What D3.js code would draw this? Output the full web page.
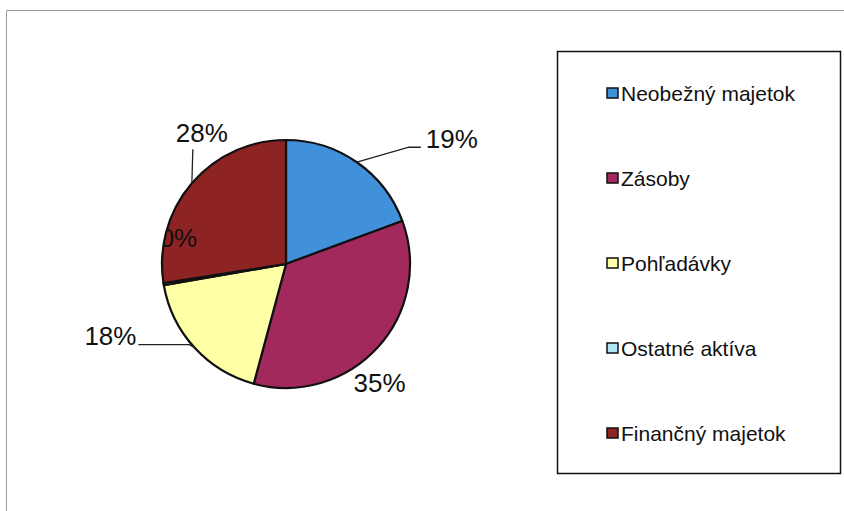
<!DOCTYPE html>
<html>
<head>
<meta charset="utf-8">
<script src="https://cdn.jsdelivr.net/npm/d3@7"></script>
<style>
  html, body { margin: 0; padding: 0; background: #fff; }
  svg { display: block; }
  text { font-family: "Liberation Sans", Arial, sans-serif; fill: #111; }
</style>
</head>
<body>
<svg id="chart" width="844" height="511"></svg>
<script>
// ---- data ----
const categories = ["Neobežný majetok", "Zásoby", "Pohľadávky", "Ostatné aktíva", "Finančný majetok"];
const values = [19.4, 34.9, 18.1, 0.3, 27.5];
const colors = ["#4190da", "#a3285c", "#ffffa6", "#aee6f6", "#8e2323"];

// ---- layout ----
const W = 844, H = 511;
const cx = 286, cy = 264, R = 124;
const svg = d3.select("#chart");

// outer frame (top and left visible)
svg.append("path")
  .attr("d", `M6.5,${H} L6.5,10.5 L${W},10.5`)
  .attr("fill", "none").attr("stroke", "#9a9a9a").attr("stroke-width", 1);

const data = categories.map((c, i) => ({ name: c, value: values[i], color: colors[i] }));
const pie = d3.pie().value(d => d.value).sort(null);
const arcs = pie(data);
const arc = d3.arc().innerRadius(0).outerRadius(R);

const g = svg.append("g").attr("transform", `translate(${cx},${cy})`);

g.selectAll("path.slice").data(arcs).enter().append("path")
  .attr("class", "slice")
  .attr("d", arc)
  .attr("fill", d => d.data.color)
  .attr("stroke", "#111")
  .attr("stroke-width", 2.2)
  .attr("stroke-linejoin", "round");

// clip for labels drawn inside the pie
svg.append("defs").append("clipPath").attr("id", "pieclip")
  .append("circle").attr("cx", cx).attr("cy", cy).attr("r", R);

// label layout: offsets from slice edge midpoint
const labelLayout = [
  { leader: [[52, -15], [64, -15]], tx: 69, ty: -14, anchor: "start" },
  { leader: [], tx: -24, ty: 44, anchor: "start" },
  { leader: [[-5, -3], [-56, -3]], tx: -58, ty: -3, anchor: "end" },
  { leader: [], tx: -4, ty: -37, anchor: "start", clip: true },
  { leader: [[1, -34]], tx: 10, ty: -41, anchor: "middle" }
];

const labels = svg.append("g");
arcs.forEach((a, i) => {
  const mid = (a.startAngle + a.endAngle) / 2;
  const ex = cx + R * Math.sin(mid), ey = cy - R * Math.cos(mid);
  const L = labelLayout[i];
  if (L.leader.length) {
    const pts = [[ex, ey]].concat(L.leader.map(p => [ex + p[0], ey + p[1]]));
    labels.append("path")
      .attr("d", d3.line()(pts))
      .attr("fill", "none").attr("stroke", "#222").attr("stroke-width", 1.3);
  }
  const t = labels.append("text")
    .attr("x", ex + L.tx).attr("y", ey + L.ty)
    .attr("text-anchor", L.anchor)
    .attr("font-size", 26)
    .text(Math.round(a.data.value) + "%");
  if (L.clip) t.attr("clip-path", "url(#pieclip)");
});

// ---- legend ----
const lg = svg.append("g");
lg.append("rect")
  .attr("x", 557.5).attr("y", 51.5).attr("width", 283).attr("height", 422)
  .attr("fill", "#fff").attr("stroke", "#111").attr("stroke-width", 1.5);

const ly = d3.scalePoint().domain(categories).range([93, 433]);
const items = lg.selectAll("g.item").data(data).enter().append("g")
  .attr("class", "item")
  .attr("transform", d => `translate(607,${ly(d.name)})`);
items.append("rect")
  .attr("x", 0).attr("y", -5).attr("width", 11).attr("height", 10)
  .attr("fill", d => d.color).attr("stroke", "#111").attr("stroke-width", 1.5);
items.append("text")
  .attr("x", 14).attr("y", 7.5)
  .attr("font-size", 21)
  .text(d => d.name);
</script>
</body>
</html>
